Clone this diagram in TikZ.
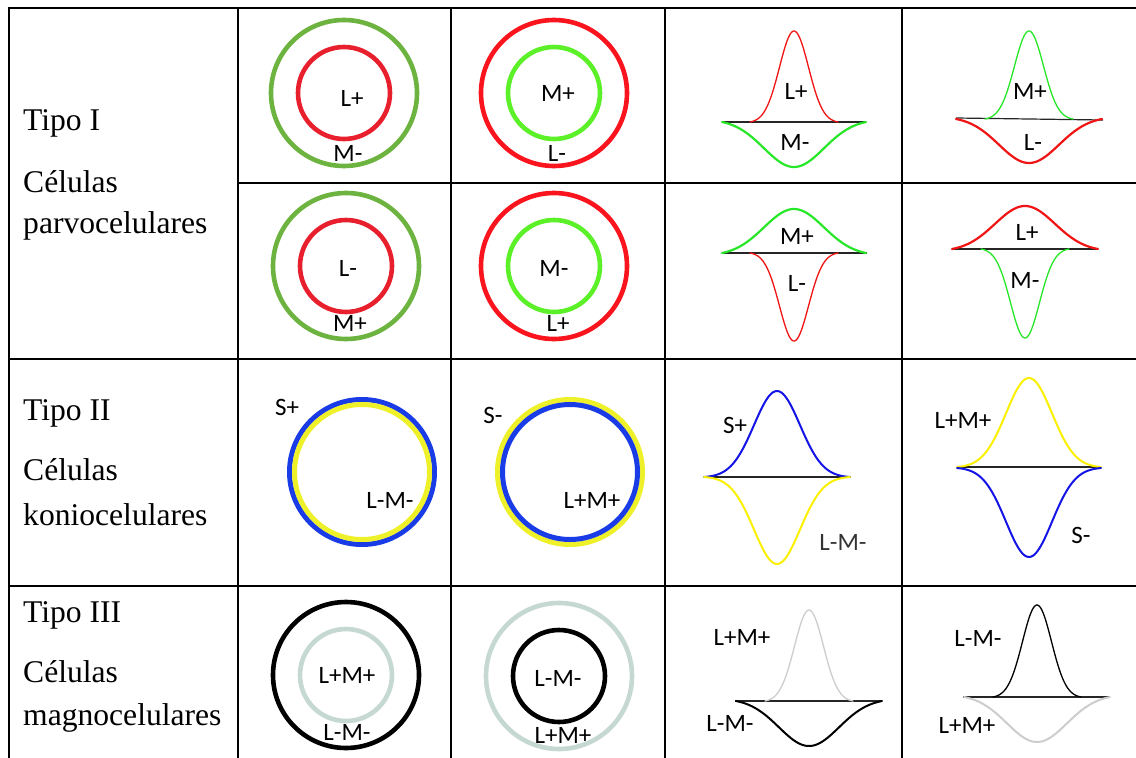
\documentclass[tikz,border=0pt]{standalone}
\usepackage{fontspec}
\setmainfont{Liberation Serif}
\newfontfamily\labfont{Carlito}
\definecolor{olivegreen}{RGB}{109,179,63}
\definecolor{ringred}{RGB}{232,32,46}
\definecolor{brightred}{RGB}{250,20,30}
\definecolor{limegreen}{RGB}{92,240,40}
\definecolor{ringblue}{RGB}{26,60,230}
\definecolor{ringyellow}{RGB}{238,240,42}
\definecolor{palegrey}{RGB}{197,216,210}
\definecolor{curvered}{RGB}{240,20,20}
\definecolor{curvegreen}{RGB}{40,230,40}
\definecolor{curveblue}{RGB}{20,20,230}
\definecolor{curveyellow}{RGB}{250,240,0}
\definecolor{curvegrey}{RGB}{205,205,205}
\newcommand{\gcurve}[7]{% colour, width, cx, base, halfwidth, amp (up positive), sigma
  \draw[#1, line width=#2, line cap=round]
    plot[domain=#3-#5:#3+#5, samples=90, smooth]
    (\x, {#4 - (#6)*(exp(-((\x-#3)^2)/(2*(#7)^2)) - exp(-((#5)^2)/(2*(#7)^2)))/(1 - exp(-((#5)^2)/(2*(#7)^2)))});}
\begin{document}
\begin{tikzpicture}[x=1pt,y=-1pt,
  gridline/.style={line width=2.6pt, black},
  rowtitle/.style={anchor=base west, inner sep=0pt, font=\fontsize{31.6}{32}\selectfont},
  lab/.style={inner sep=0pt, font=\labfont\fontsize{25}{25}\selectfont},
  ring/.style={line width=4.6pt},
  baseln/.style={line width=1.2pt, black!85}]
\useasboundingbox (0,0) rectangle (1136,758);
\fill[white] (0,0) rectangle (1136,758);

% grid
\draw[gridline] (7.7,8) -- (1136,8);
\draw[gridline] (238,183) -- (1136,183);
\draw[gridline] (9,359) -- (1136,359);
\draw[gridline] (9,586) -- (1136,586);
\foreach \xx in {9,238,451,665,902} \draw[gridline] (\xx,8) -- (\xx,758);

% row titles
\node[rowtitle] (t1) at (23,130) {Tipo I};
\node[rowtitle] (c1) at (23,192) {Células};
\node[rowtitle] (p1) at (23,233) {parvocelulares};
\node[rowtitle] (t2) at (23,420) {Tipo II};
\node[rowtitle] (c2) at (23,480) {Células};
\node[rowtitle] (p2) at (23,525) {koniocelulares};
\node[rowtitle] (t3) at (23,622) {Tipo III};
\node[rowtitle] (c3) at (23,682) {Células};
\node[rowtitle] (p3) at (23,725) {magnocelulares};

% ---- Tipo I rings
\draw[ring, olivegreen] (344,93) circle (73);
\draw[ring, ringred] (344,93) circle (46);
\node[lab] (a1) at (352,98) {L+};
\node[lab] (a2) at (348,153) {M-};

\draw[ring, brightred] (554,93) circle (73);
\draw[ring, limegreen] (554,93) circle (46);
\node[lab] (b1) at (558,93) {M+};
\node[lab] (b2) at (557,153) {L-};

\draw[ring, olivegreen] (346,266) circle (73);
\draw[ring, ringred] (346,266) circle (46);
\node[lab] (a3) at (348,268) {L-};
\node[lab] (a4) at (350,323) {M+};

\draw[ring, brightred] (554,266) circle (73);
\draw[ring, limegreen] (554,266) circle (46);
\node[lab] (b3) at (554,268) {M-};
\node[lab] (b4) at (558,323) {L+};

% ---- Tipo I curves
\draw[baseln] (722,122) -- (866,122);
\gcurve{curvered}{1.3pt}{794}{122}{44}{91}{14.5}
\gcurve{curvegreen}{2.2pt}{794}{122}{72}{-45}{30}
\node[lab] (d1) at (796,91) {L+};
\node[lab] (d2) at (795,142) {M-};

\draw[baseln] (956,118) -- (1103,120);
\gcurve{curvegreen}{1.3pt}{1029}{119}{44}{88}{14.5}
\gcurve{curvered}{2.2pt}{1029}{119}{73}{-44}{30}
\node[lab] (e1) at (1030,91) {M+};
\node[lab] (e2) at (1033,142) {L-};

\draw[baseln] (722,253) -- (867,253);
\gcurve{curvegreen}{2.2pt}{794}{253}{72}{44}{30}
\gcurve{curvered}{1.3pt}{794}{253}{44}{-88}{14.5}
\node[lab] (d3) at (797,236) {M+};
\node[lab] (d4) at (797,283) {L-};

\draw[baseln] (952,249) -- (1098,249);
\gcurve{curvered}{2.2pt}{1025}{249}{73}{43}{30}
\gcurve{curvegreen}{1.3pt}{1025}{249}{44}{-89}{14.5}
\node[lab] (e3) at (1027,232) {L+};
\node[lab] (e4) at (1025,280) {M-};

% ---- Tipo II rings
\draw[line width=5pt, ringblue] (362,472) circle (72.5);
\draw[line width=5pt, ringyellow] (362,472) circle (67.5);
\node[lab] (f1) at (287,407) {S+};
\node[lab] (f2) at (390,500) {L-M-};

\draw[line width=5pt, ringyellow] (570,472) circle (72.5);
\draw[line width=5pt, ringblue] (570,472) circle (67.5);
\node[lab] (g1) at (493,415) {S-};
\node[lab] (g2) at (592,500) {L+M+};

% ---- Tipo II curves
\draw[baseln] (704,477) -- (850,477);
\gcurve{curveblue}{2pt}{777}{477}{73}{86}{23}
\gcurve{curveyellow}{2pt}{777}{477}{73}{-87}{23}
\node[lab] (h1) at (735,425) {S+};
\node[lab, text=black!80] (h2) at (843,542) {L-M-};

\draw[baseln] (957,467) -- (1101,467);
\gcurve{curveyellow}{2pt}{1029}{467}{72}{89}{23}
\gcurve{curveblue}{2pt}{1029}{468}{72}{-89}{23}
\node[lab] (i1) at (963,420) {L+M+};
\node[lab] (i2) at (1081,535) {S-};

% ---- Tipo III rings
\draw[ring, black] (346,675) circle (73);
\draw[ring, palegrey] (346,675) circle (46);
\node[lab] (j1) at (347,675) {L+M+};
\node[lab] (j2) at (347,732) {L-M-};

\draw[ring, palegrey] (559,676) circle (73);
\draw[ring, black] (559,676) circle (46);
\node[lab] (k1) at (558,678) {L-M-};
\node[lab] (k2) at (563,735) {L+M+};

% ---- Tipo III curves
\draw[baseln] (735,701) -- (882,701);
\gcurve{curvegrey}{1.3pt}{809}{701}{44}{91}{14.5}
\gcurve{black}{2pt}{809}{701}{73}{-45}{30}
\node[lab] (l1) at (742,637) {L+M+};
\node[lab] (l2) at (730,723) {L-M-};

\draw[baseln] (963,697) -- (1110,697);
\gcurve{black}{1.3pt}{1037}{697}{44}{92}{14.5}
\gcurve{curvegrey}{2pt}{1037}{697}{73}{-45}{30}
\node[lab] (m1) at (978,638) {L-M-};
\node[lab] (m2) at (967,725) {L+M+};
\end{tikzpicture}
\end{document}
